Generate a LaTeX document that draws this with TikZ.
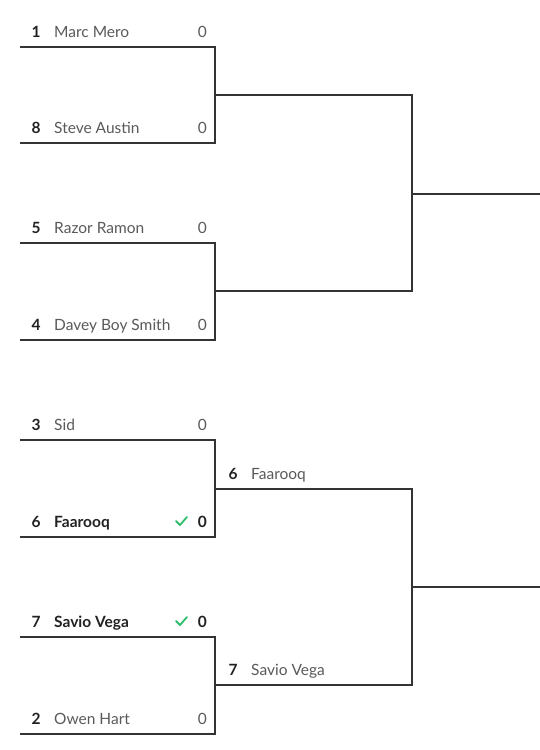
\documentclass[tikz,border=0pt]{standalone}
\usepackage{fontspec}
\setmainfont{Lato}
\usepackage{xcolor}
\usepackage{tikz}
\usetikzlibrary{positioning}

\definecolor{linegray}{HTML}{333333}
\definecolor{namegray}{HTML}{5A5A5A}
\definecolor{seedblack}{HTML}{222222}
\definecolor{wingreen}{HTML}{2DBE6C}

\tikzset{
    bracket/.style={draw=linegray,line width=1.8pt},
    seednum/.style={anchor=base,font=\fontsize{15.5}{17}\selectfont\bfseries,text=seedblack,inner sep=0pt},
    player/.style={anchor=base west,font=\fontsize{15.5}{17}\selectfont,text=namegray,inner sep=0pt},
    winner/.style={player,font=\fontsize{15.5}{17}\selectfont\bfseries,text=seedblack},
    score/.style={anchor=base east,font=\fontsize{15.5}{17}\selectfont,text=namegray,inner sep=0pt},
    winscore/.style={score,font=\fontsize{15.5}{17}\selectfont\bfseries,text=seedblack},
    tick/.style={draw=wingreen,line width=1.8pt,line cap=round,line join=round}
}

\begin{document}
\begin{tikzpicture}[x=1pt,y=-1pt]
    \useasboundingbox[fill=white] (0,0) rectangle (540,750);

    % Round 1 - entries
    \node[seednum] (s1) at (36,37) {1};
    \node[player] (p1) at (54,37) {Marc Mero};
    \node[score] (c1) at (207,37) {0};

    \node[seednum] (s8) at (36,133) {8};
    \node[player] (p8) at (54,133) {Steve Austin};
    \node[score] (c8) at (207,133) {0};

    \node[seednum] (s5) at (36,233) {5};
    \node[player] (p5) at (54,233) {Razor Ramon};
    \node[score] (c5) at (207,233) {0};

    \node[seednum] (s4) at (36,330) {4};
    \node[player] (p4) at (54,330) {Davey Boy Smith};
    \node[score] (c4) at (207,330) {0};

    \node[seednum] (s3) at (36,430) {3};
    \node[player] (p3) at (54,430) {Sid};
    \node[score] (c3) at (207,430) {0};

    \node[seednum] (s6) at (36,527) {6};
    \node[winner] (p6) at (54,527) {Faarooq};
    \node[winscore] (c6) at (207,527) {0};

    \node[seednum] (s7) at (36,627) {7};
    \node[winner] (p7) at (54,627) {Savio Vega};
    \node[winscore] (c7) at (207,627) {0};

    \node[seednum] (s2) at (36,724) {2};
    \node[player] (p2) at (54,724) {Owen Hart};
    \node[score] (c2) at (207,724) {0};

    % Round 2 - entries
    \node[seednum] (r6) at (233,479) {6};
    \node[player] (q6) at (251,479) {Faarooq};
    \node[seednum] (r7) at (233,675) {7};
    \node[player] (q7) at (251,675) {Savio Vega};

    % winner ticks
    \coordinate (t6) at (176,521);
    \coordinate (t7) at (176,621);
    \draw[tick] (t6) -- ++(4,4) -- ++(7,-8);
    \draw[tick] (t7) -- ++(4,4) -- ++(7,-8);

    % bracket lines
    \coordinate (a1) at (20,47);   \coordinate (b1) at (215,47);
    \coordinate (a8) at (20,143);  \coordinate (b8) at (215,143);
    \coordinate (a5) at (20,243);  \coordinate (b5) at (215,243);
    \coordinate (a4) at (20,340);  \coordinate (b4) at (215,340);
    \coordinate (a3) at (20,440);  \coordinate (b3) at (215,440);
    \coordinate (a6) at (20,537);  \coordinate (b6) at (215,537);
    \coordinate (a7) at (20,637);  \coordinate (b7) at (215,637);
    \coordinate (a2) at (20,734);  \coordinate (b2) at (215,734);

    \coordinate (m18) at (215,95);  \coordinate (w18) at (412,95);
    \coordinate (m54) at (215,291); \coordinate (w54) at (412,291);
    \coordinate (m36) at (215,489); \coordinate (w36) at (412,489);
    \coordinate (m72) at (215,685); \coordinate (w72) at (412,685);

    \coordinate (f1) at (412,194);  \coordinate (e1) at (540,194);
    \coordinate (f2) at (412,587);  \coordinate (e2) at (540,587);

    \draw[bracket] (a1) -- (b1) -- (b8) -- (a8);
    \draw[bracket] (a5) -- (b5) -- (b4) -- (a4);
    \draw[bracket] (a3) -- (b3) -- (b6) -- (a6);
    \draw[bracket] (a7) -- (b7) -- (b2) -- (a2);

    \draw[bracket] (m18) -- (w18) -- (w54) -- (m54);
    \draw[bracket] (m36) -- (w36) -- (w72) -- (m72);

    \draw[bracket] (f1) -- (e1);
    \draw[bracket] (f2) -- (e2);
\end{tikzpicture}
\end{document}
